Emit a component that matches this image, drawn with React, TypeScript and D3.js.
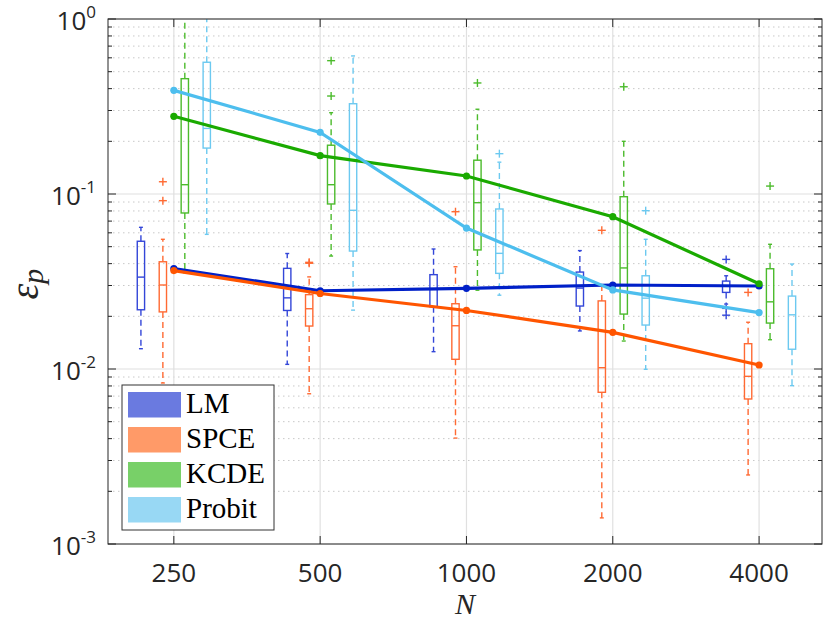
import React from "react";
import * as d3 from "d3";

// ---------- data ----------
const sampleSizes = ["250", "500", "1000", "2000", "4000"];
const methods = ["LM", "SPCE", "KCDE", "Probit"];

// box stats per N: [whiskerLow, q1, median, q3, whiskerHigh]
const lmBoxes = [
  [0.01306, 0.0218, 0.0335, 0.0537, 0.0645],
  [0.01063, 0.0216, 0.0255, 0.0376, 0.0457],
  [0.01256, 0.0227, 0.0285, 0.0346, 0.0485],
  [0.0165, 0.0229, 0.029, 0.0358, 0.0475],
  [0.0235, 0.0274, 0.0298, 0.0318, 0.0341],
];
const spceBoxes = [
  [0.00832, 0.0212, 0.0302, 0.041, 0.0551],
  [0.00722, 0.0176, 0.0221, 0.0266, 0.0336],
  [0.00403, 0.01136, 0.01767, 0.0236, 0.0384],
  [0.00141, 0.00736, 0.01017, 0.0245, 0.0298],
  [0.00248, 0.00674, 0.00908, 0.01395, 0.0185],
];
const kcdeBoxes = [
  [0.0355, 0.0779, 0.113, 0.456, 1.6],
  [0.0442, 0.0877, 0.113, 0.19, 0.2915],
  [0.0282, 0.0479, 0.0892, 0.156, 0.305],
  [0.01445, 0.0206, 0.0378, 0.0965, 0.2],
  [0.0147, 0.0183, 0.0242, 0.0374, 0.0516],
];
const probitBoxes = [
  [0.0588, 0.183, 0.237, 0.566, 1.6],
  [0.0217, 0.0472, 0.0807, 0.328, 0.615],
  [0.0264, 0.0352, 0.0458, 0.0821, 0.152],
  [0.00996, 0.01783, 0.0254, 0.0341, 0.0551],
  [0.00803, 0.01297, 0.0204, 0.0261, 0.0398],
];

const lmOutliers = [[], [], [], [], [0.0423, 0.0222, 0.0203]];
const spceOutliers = [[0.1175, 0.0916], [0.0407, 0.0402], [0.0792], [0.062], [0.0274]];
const kcdeOutliers = [[], [0.578, 0.363], [0.431], [0.41], [0.111]];
const probitOutliers = [[], [], [0.17], [0.0803], []];

// mean-error lines
const lmLine = [0.0375, 0.028, 0.0289, 0.0302, 0.0298];
const spceLine = [0.0365, 0.027, 0.0216, 0.0162, 0.01054];
const kcdeLine = [0.278, 0.1656, 0.1267, 0.0742, 0.0307];
const probitLine = [0.391, 0.225, 0.0639, 0.0283, 0.021];

const yTickValues = [1e-3, 1e-2, 1e-1, 1];
const yTickExps = ["-3", "-2", "-1", "0"];

// ---------- styles ----------
const lineColors = ["#0020c8", "#ff5500", "#1aaa00", "#4dbeee"];
const boxColors = ["#3346d8", "#ff6a33", "#4cbb2c", "#6cc9f0"];
const legendColors = ["#6a7ae0", "#ff9a68", "#78d068", "#98d8f4"];
const boxOffsets = [-0.225, -0.075, 0.075, 0.225];

const W = 825;
const H = 623;
const L = 108, R = 822, T = 19, B = 544;

export default function App() {
  const x = d3.scaleLinear().domain([0.55, 5.43]).range([L, R]);
  const y = d3.scaleLog().domain([1e-3, 1]).range([B, T]);
  const boxes = [lmBoxes, spceBoxes, kcdeBoxes, probitBoxes];
  const outliers = [lmOutliers, spceOutliers, kcdeOutliers, probitOutliers];
  const lines = [lmLine, spceLine, kcdeLine, probitLine];
  const bw = x(1.05) - x(1);
  const cw = x(1.027) - x(1);

  const minorTicks: number[] = [];
  for (let e = -3; e < 0; e++) {
    for (let m = 2; m <= 9; m++) minorTicks.push(m * Math.pow(10, e));
  }
  const idx = sampleSizes.map((_, i) => i + 1);
  const lineGen = d3
    .line<number>()
    .x((_, i) => x(i + 1))
    .y((d) => y(d));

  const axisColor = "#262626";
  const tickFont = "'Open Sans', 'Liberation Sans', sans-serif";

  return (
    <svg
      width={W}
      height={H}
      style={{ position: "absolute", left: 0, top: 0, background: "#fff" }}
    >
      <defs>
        <clipPath id="plotclip">
          <rect x={L} y={T} width={R - L} height={B - T} />
        </clipPath>
      </defs>
      {/* grid */}
      <g>
        {minorTicks.map((v, i) => (
          <line
            key={"mg" + i}
            x1={L}
            x2={R}
            y1={y(v)}
            y2={y(v)}
            stroke="#c8c8c8"
            strokeWidth={1}
            strokeDasharray="1.5,3.5"
          />
        ))}
        {yTickValues.map((v, i) => (
          <line key={"yg" + i} x1={L} x2={R} y1={y(v)} y2={y(v)} stroke="#e0e0e0" strokeWidth={1.2} />
        ))}
        {idx.map((v) => (
          <line key={"xg" + v} x1={x(v)} x2={x(v)} y1={T} y2={B} stroke="#e0e0e0" strokeWidth={1.2} />
        ))}
      </g>

      {/* boxes */}
      <g clipPath="url(#plotclip)">
        {boxes.map((series, m) =>
          series.map((s, i) => {
            const cx = x(i + 1 + boxOffsets[m]);
            const [wl, q1, md, q3, wh] = s;
            const col = boxColors[m];
            return (
              <g key={`b${m}-${i}`} fill="none" stroke={col} strokeWidth={1.4}>
                <line x1={cx} x2={cx} y1={y(q3)} y2={y(wh)} strokeDasharray="6,4" />
                <line x1={cx} x2={cx} y1={y(q1)} y2={y(wl)} strokeDasharray="6,4" />
                <line x1={cx - cw / 2} x2={cx + cw / 2} y1={y(wh)} y2={y(wh)} />
                <line x1={cx - cw / 2} x2={cx + cw / 2} y1={y(wl)} y2={y(wl)} />
                <rect x={cx - bw / 2} y={y(q3)} width={bw} height={y(q1) - y(q3)} />
                <line x1={cx - bw / 2} x2={cx + bw / 2} y1={y(md)} y2={y(md)} />
                {outliers[m][i].map((o, k) => (
                  <g key={k}>
                    <line x1={cx - 4} x2={cx + 4} y1={y(o)} y2={y(o)} />
                    <line x1={cx} x2={cx} y1={y(o) - 4} y2={y(o) + 4} />
                  </g>
                ))}
              </g>
            );
          })
        )}
      </g>

      {/* lines */}
      <g clipPath="url(#plotclip)">
        {lines.map((ln, m) => (
          <g key={"l" + m}>
            <path d={lineGen(ln) || ""} fill="none" stroke={lineColors[m]} strokeWidth={3.2} />
            {ln.map((v, i) => (
              <circle key={i} cx={x(i + 1)} cy={y(v)} r={3.6} fill={lineColors[m]} />
            ))}
          </g>
        ))}
      </g>

      {/* axes box */}
      <rect x={L} y={T} width={R - L} height={B - T} fill="none" stroke={axisColor} strokeWidth={1} />
      {/* y ticks */}
      {yTickValues.map((v, i) => (
        <g key={"yt" + i}>
          <line x1={L} x2={L + 8} y1={y(v)} y2={y(v)} stroke={axisColor} />
          <line x1={R} x2={R - 8} y1={y(v)} y2={y(v)} stroke={axisColor} />
          <text
            x={L - 12}
            y={y(v) + 11}
            textAnchor="end"
            fontFamily={tickFont}
            fontSize={26}
            fill={axisColor}
          >
            10
            <tspan dy={-12} fontSize={17}>
              {yTickExps[i]}
            </tspan>
          </text>
        </g>
      ))}
      {minorTicks.map((v, i) => (
        <g key={"ymt" + i}>
          <line x1={L} x2={L + 4} y1={y(v)} y2={y(v)} stroke={axisColor} />
          <line x1={R} x2={R - 4} y1={y(v)} y2={y(v)} stroke={axisColor} />
        </g>
      ))}
      {/* x ticks */}
      {idx.map((v, i) => (
        <g key={"xt" + v}>
          <line x1={x(v)} x2={x(v)} y1={B} y2={B - 8} stroke={axisColor} />
          <line x1={x(v)} x2={x(v)} y1={T} y2={T + 8} stroke={axisColor} />
          <text
            x={x(v)}
            y={B + 38}
            textAnchor="middle"
            fontFamily={tickFont}
            fontSize={26}
            fill={axisColor}
          >
            {sampleSizes[i]}
          </text>
        </g>
      ))}

      {/* axis labels */}
      <text
        x={(L + R) / 2}
        y={614}
        textAnchor="middle"
        fontFamily="'Liberation Serif', serif"
        fontStyle="italic"
        fontSize={30}
        fill={axisColor}
      >
        N
      </text>
      <text
        transform={`translate(38, 284) rotate(-90)`}
        textAnchor="middle"
        fontFamily="'Liberation Serif', serif"
        fontStyle="italic"
        fontSize={40}
        fill={axisColor}
      >
        ε
        <tspan fontSize={30} dy={5}>
          p
        </tspan>
      </text>

      {/* legend */}
      <g>
        <rect x={122} y={385} width={152} height={145} fill="#fff" stroke="#333" strokeWidth={1} />
        {methods.map((name, m) => (
          <g key={"lg" + m}>
            <rect x={128} y={392 + m * 35} width={53} height={25.5} fill={legendColors[m]} />
            <text
              x={186}
              y={413 + m * 35}
              fontFamily="'Liberation Serif', serif"
              fontSize={29}
              fill="#000"
            >
              {name}
            </text>
          </g>
        ))}
      </g>
    </svg>
  );
}
